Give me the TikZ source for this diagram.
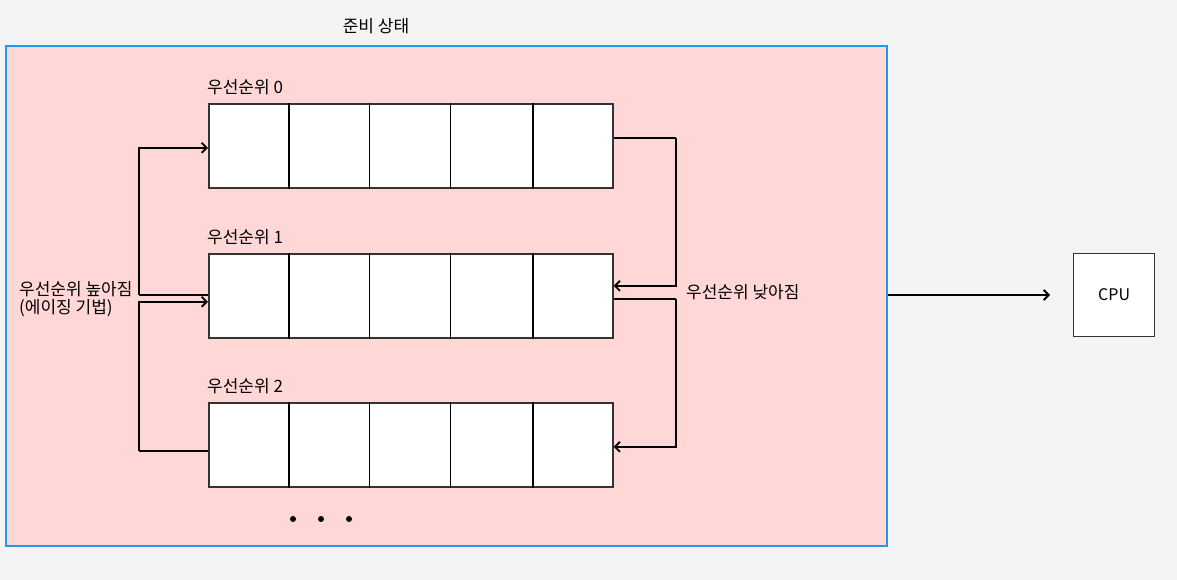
\documentclass[tikz,border=0pt]{standalone}
\usepackage{fontspec}
\setmainfont{Noto Sans CJK KR}
\usetikzlibrary{arrows.meta,calc}
\definecolor{bg}{HTML}{F4F4F4}
\definecolor{pinkfill}{HTML}{FFD7D7}
\definecolor{blueedge}{HTML}{2196F3}
\definecolor{celledge}{HTML}{333333}
\tikzset{
  queuebox/.style={draw=celledge, line width=1.6pt, fill=white, minimum width=404pt, minimum height=84pt, inner sep=0pt, anchor=north west},
  cellbox/.style={draw=black, line width=1.6pt, minimum width=80.8pt, minimum height=84pt, inner sep=0pt, anchor=north west},
  arr/.style={draw=black, line width=1.9pt, -{Straight Barb[length=5pt,width=10pt]}},
  conn/.style={draw=black, line width=1.9pt},
  lbl/.style={font=\fontsize{17}{20}\selectfont, inner sep=0pt, text=black},
}
\begin{document}
\begin{tikzpicture}[x=1pt,y=-1pt]
\fill[bg] (0,0) rectangle (1177,580);
\useasboundingbox (0,0) rectangle (1177,580);
% ready state container
\node[draw=blueedge, line width=2.2pt, fill=pinkfill, minimum width=881pt, minimum height=500pt, inner sep=0pt, anchor=north west] (ready) at (5,45) {};
\node[lbl] (title) at (376,26) {준비 상태};
% queues
\foreach \q/\top in {0/103, 1/253, 2/402} {
  \node[queuebox] (q\q) at (208,\top) {};
  \foreach \i in {2,...,4} {
    \node[cellbox, draw=none] (q\q c\i) at ({208+80.8*(\i-1)},\top) {};
    \draw[black, line width=1.6pt] (q\q c\i.north west) -- (q\q c\i.south west);
  }
  \draw[black, line width=1.6pt] (q\q c4.north east) -- (q\q c4.south east);
  \node[lbl, anchor=south west] (l\q) at (207,{\top-8}) {우선순위 \q};
}
% left side: aging (raise priority)
\draw[conn] ([yshift=1pt]q1.west) -- ++(-69,0) coordinate (a1);
\draw[arr] (a1) |- ([yshift=-2pt]q0.west);
\draw[conn] ([yshift=-6pt]q2.west) -- ++(-69,0) coordinate (a2);
\draw[arr] (a2) |- ([yshift=-6pt]q1.west);
% right side: lower priority
\draw[conn] ([yshift=8pt]q0.east) -- ++(62,0) coordinate (b1);
\draw[arr] (b1) |- ([yshift=10pt]q1.east);
\draw[conn] ([yshift=-3pt]q1.east) -- ++(62,0) coordinate (b2);
\draw[arr] (b2) |- ([yshift=-2pt]q2.east);
% labels
\node[lbl, anchor=west] (up) at (19,300) {\begin{tabular}{@{}l@{}}우선순위 높아짐\\[-2pt](에이징 기법)\end{tabular}};
\node[lbl, anchor=west] (down) at (686,292) {우선순위 낮아짐};
% CPU
\node[draw=celledge, line width=1.2pt, fill=white, minimum width=81pt, minimum height=83pt, inner sep=0pt, anchor=north west, font=\fontsize{16}{19}\selectfont] (cpu) at (1073,253) {CPU};
\coordinate (cpuin) at (1050,295);
\draw[arr] (ready.east |- cpuin) -- (cpuin);
% dots
\foreach \x [count=\k] in {293,321,349} \fill[black] (\x,519) circle (3pt) coordinate (dot\k);
\end{tikzpicture}
\end{document}
